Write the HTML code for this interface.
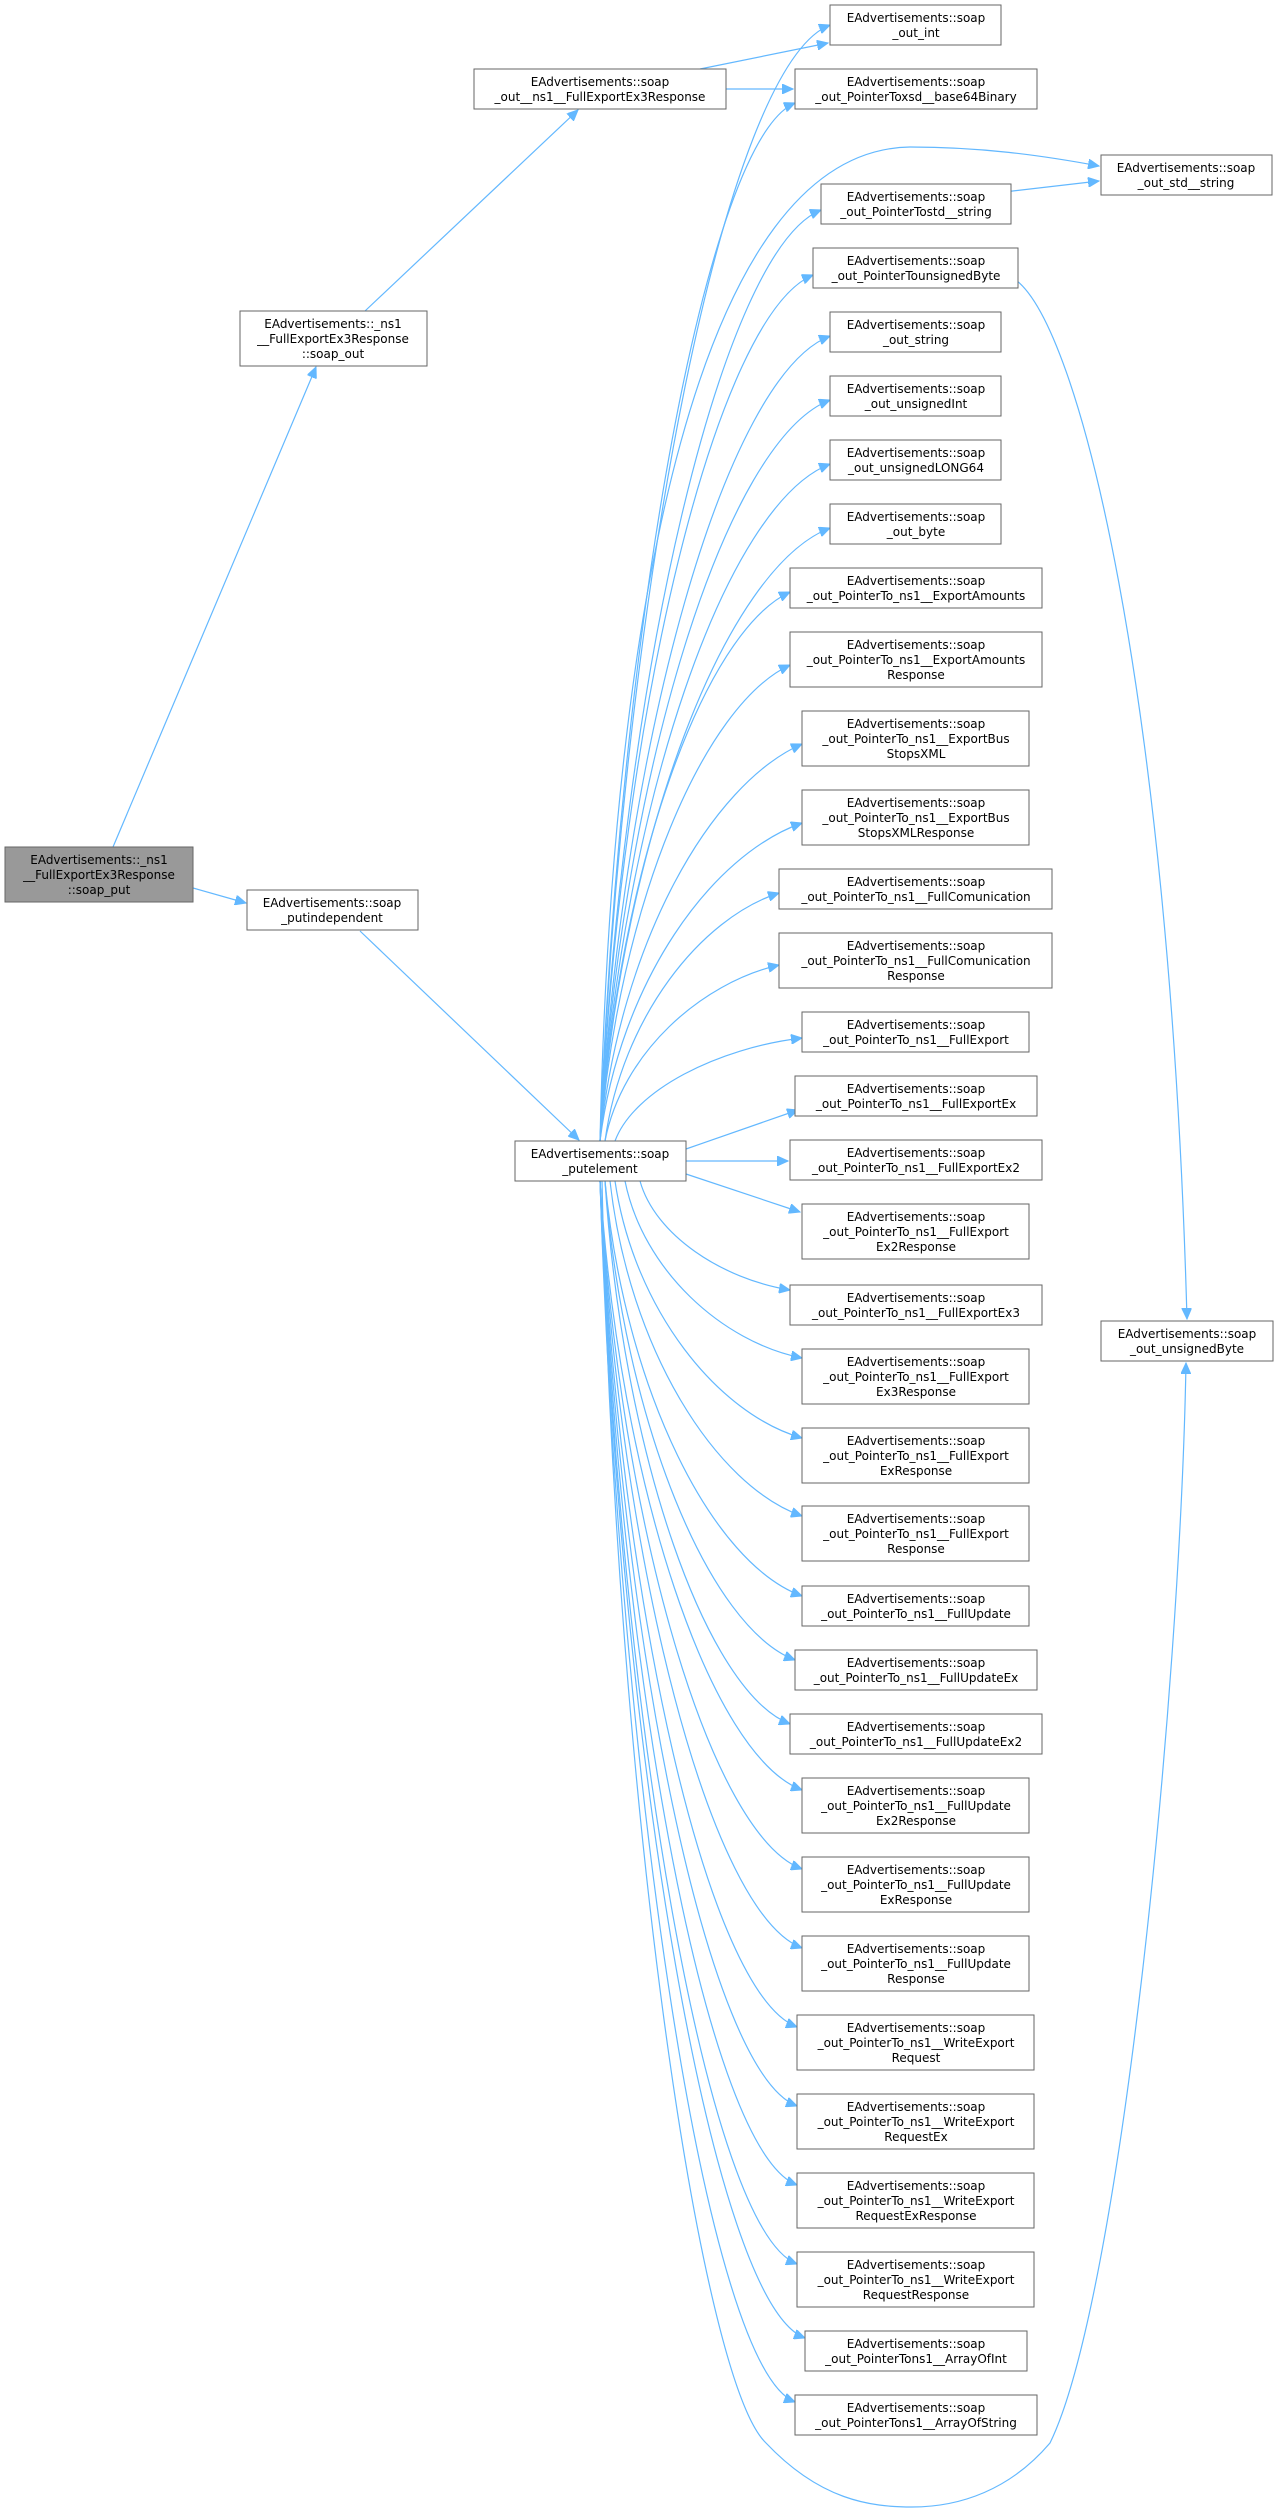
<!DOCTYPE html>
<html><head><meta charset="utf-8"><style>
html,body{margin:0;padding:0;background:#fff;}
svg{display:block;}
text{font-family:"DejaVu Sans","Liberation Sans",sans-serif;font-size:12px;fill:#000;text-anchor:middle;}
.n{fill:#fff;stroke:#666;stroke-width:1;}
.e{fill:none;stroke:#63b8ff;stroke-width:1.2;}
</style></head><body>
<svg width="1279" height="2513" viewBox="0 0 1279 2513" xmlns="http://www.w3.org/2000/svg">
<defs><marker id="a" markerUnits="userSpaceOnUse" markerWidth="12" markerHeight="10" refX="11" refY="5" orient="auto"><path d="M0,0 L11,5 L0,10 z" fill="#63b8ff" stroke="#63b8ff"/></marker></defs>
<g marker-end="url(#a)">
<path class="e" d="M113 847 L316 367"/>
<path class="e" d="M365 311 L578 110"/>
<path class="e" d="M193 888 L246 903"/>
<path class="e" d="M360 931 L579 1140"/>
<path class="e" d="M700 69 L828 43"/>
<path class="e" d="M726 89 L793 89"/>
<path class="e" d="M1004 192 L1099 181"/>
<path class="e" d="M1013 278 C1080 320,1170 700,1187 1319"/>
<path class="e" d="M602 1181 C615 1800,700 2380,766 2443 C820 2500,870 2507,912 2507 C960 2507,1010 2490,1050 2443 C1120 2300,1180 1700,1186 1363"/>
<path class="e" d="M600 1141 C623 583,726 65,830 25"/>
<path class="e" d="M600 1141 C620 620,707 140,795 103"/>
<path class="e" d="M600 1141 C612 600,700 150,910 147 C980 147,1040 155,1099 166"/>
<path class="e" d="M600 1141 C622 675,722 250,821 210"/>
<path class="e" d="M600 1141 C621 708,717 315,813 275"/>
<path class="e" d="M600 1141 C623 738,726 376,830 336"/>
<path class="e" d="M600 1141 C623 770,726 440,830 400"/>
<path class="e" d="M600 1141 C623 802,726 504,830 464"/>
<path class="e" d="M600 1141 C623 834,726 568,830 528"/>
<path class="e" d="M600 1141 C619 866,704 632,790 592"/>
<path class="e" d="M600 1141 C619 903,704 705,790 665"/>
<path class="e" d="M600 1141 C620 942,711 784,802 744"/>
<path class="e" d="M600 1141 C620 982,711 855,802 823"/>
<path class="e" d="M605 1141 C622 1017,701 918,779 893"/>
<path class="e" d="M605 1141 C622 1053,701 983,779 965"/>
<path class="e" d="M615 1141 C634 1090,718 1048,802 1038"/>
<path class="e" d="M686 1149 L798 1110"/>
<path class="e" d="M686 1161 L788 1161"/>
<path class="e" d="M686 1174 L800 1212"/>
<path class="e" d="M640 1181 C655 1235,722 1279,790 1290"/>
<path class="e" d="M625 1181 C643 1270,722 1342,802 1358"/>
<path class="e" d="M615 1181 C634 1310,718 1414,802 1438"/>
<path class="e" d="M610 1181 C629 1350,716 1486,802 1516"/>
<path class="e" d="M605 1181 C625 1392,713 1564,802 1596"/>
<path class="e" d="M605 1181 C624 1424,710 1628,795 1660"/>
<path class="e" d="M605 1181 C623 1456,707 1692,790 1724"/>
<path class="e" d="M600 1181 C620 1488,711 1756,802 1790"/>
<path class="e" d="M600 1181 C620 1528,711 1835,802 1869"/>
<path class="e" d="M600 1181 C620 1567,711 1914,802 1948"/>
<path class="e" d="M600 1181 C620 1607,708 1993,797 2027"/>
<path class="e" d="M600 1181 C620 1646,708 2072,797 2106"/>
<path class="e" d="M600 1181 C620 1686,708 2151,797 2185"/>
<path class="e" d="M600 1181 C620 1725,708 2230,797 2264"/>
<path class="e" d="M600 1181 C620 1762,713 2304,805 2338"/>
<path class="e" d="M600 1181 C620 1794,707 2368,795 2402"/>
</g>

<!-- left nodes -->
<rect x="5" y="847" width="188" height="55" fill="#999" stroke="#666"/>
<text x="99" y="864">EAdvertisements::_ns1</text><text x="99" y="879">__FullExportEx3Response</text><text x="99" y="894">::soap_put</text>

<rect class="n" x="240" y="311" width="187" height="55"/>
<text x="333" y="328">EAdvertisements::_ns1</text><text x="333" y="343">__FullExportEx3Response</text><text x="333" y="358">::soap_out</text>

<rect class="n" x="474" y="69" width="252" height="40"/>
<text x="600" y="86">EAdvertisements::soap</text><text x="600" y="101">_out__ns1__FullExportEx3Response</text>

<rect class="n" x="247" y="890" width="171" height="40"/>
<text x="332" y="907">EAdvertisements::soap</text><text x="332" y="922">_putindependent</text>

<rect class="n" x="515" y="1141" width="171" height="40"/>
<text x="600" y="1158">EAdvertisements::soap</text><text x="600" y="1173">_putelement</text>

<!-- right far column -->
<rect class="n" x="1101" y="155" width="171" height="40"/>
<text x="1186" y="172">EAdvertisements::soap</text><text x="1186" y="187">_out_std__string</text>
<rect class="n" x="1101" y="1321" width="172" height="40"/>
<text x="1187" y="1338">EAdvertisements::soap</text><text x="1187" y="1353">_out_unsignedByte</text>

<!-- main column -->
<rect class="n" x="830" y="5" width="171" height="40"/>
<text x="916" y="22">EAdvertisements::soap</text><text x="916" y="37">_out_int</text>
<rect class="n" x="795" y="69" width="242" height="40"/>
<text x="916" y="86">EAdvertisements::soap</text><text x="916" y="101">_out_PointerToxsd__base64Binary</text>
<rect class="n" x="821" y="184" width="190" height="40"/>
<text x="916" y="201">EAdvertisements::soap</text><text x="916" y="216">_out_PointerTostd__string</text>
<rect class="n" x="813" y="248" width="205" height="40"/>
<text x="916" y="265">EAdvertisements::soap</text><text x="916" y="280">_out_PointerTounsignedByte</text>
<rect class="n" x="830" y="312" width="171" height="40"/>
<text x="916" y="329">EAdvertisements::soap</text><text x="916" y="344">_out_string</text>
<rect class="n" x="830" y="376" width="171" height="40"/>
<text x="916" y="393">EAdvertisements::soap</text><text x="916" y="408">_out_unsignedInt</text>
<rect class="n" x="830" y="440" width="171" height="40"/>
<text x="916" y="457">EAdvertisements::soap</text><text x="916" y="472">_out_unsignedLONG64</text>
<rect class="n" x="830" y="504" width="171" height="40"/>
<text x="916" y="521">EAdvertisements::soap</text><text x="916" y="536">_out_byte</text>
<rect class="n" x="790" y="568" width="252" height="40"/>
<text x="916" y="585">EAdvertisements::soap</text><text x="916" y="600">_out_PointerTo_ns1__ExportAmounts</text>
<rect class="n" x="790" y="632" width="252" height="55"/>
<text x="916" y="649">EAdvertisements::soap</text><text x="916" y="664">_out_PointerTo_ns1__ExportAmounts</text><text x="916" y="679">Response</text>
<rect class="n" x="802" y="711" width="227" height="55"/>
<text x="916" y="728">EAdvertisements::soap</text><text x="916" y="743">_out_PointerTo_ns1__ExportBus</text><text x="916" y="758">StopsXML</text>
<rect class="n" x="802" y="790" width="227" height="55"/>
<text x="916" y="807">EAdvertisements::soap</text><text x="916" y="822">_out_PointerTo_ns1__ExportBus</text><text x="916" y="837">StopsXMLResponse</text>
<rect class="n" x="779" y="869" width="273" height="40"/>
<text x="916" y="886">EAdvertisements::soap</text><text x="916" y="901">_out_PointerTo_ns1__FullComunication</text>
<rect class="n" x="779" y="933" width="273" height="55"/>
<text x="916" y="950">EAdvertisements::soap</text><text x="916" y="965">_out_PointerTo_ns1__FullComunication</text><text x="916" y="980">Response</text>
<rect class="n" x="802" y="1012" width="227" height="40"/>
<text x="916" y="1029">EAdvertisements::soap</text><text x="916" y="1044">_out_PointerTo_ns1__FullExport</text>
<rect class="n" x="795" y="1076" width="242" height="40"/>
<text x="916" y="1093">EAdvertisements::soap</text><text x="916" y="1108">_out_PointerTo_ns1__FullExportEx</text>
<rect class="n" x="790" y="1140" width="252" height="40"/>
<text x="916" y="1157">EAdvertisements::soap</text><text x="916" y="1172">_out_PointerTo_ns1__FullExportEx2</text>
<rect class="n" x="802" y="1204" width="227" height="55"/>
<text x="916" y="1221">EAdvertisements::soap</text><text x="916" y="1236">_out_PointerTo_ns1__FullExport</text><text x="916" y="1251">Ex2Response</text>
<rect class="n" x="790" y="1285" width="252" height="40"/>
<text x="916" y="1302">EAdvertisements::soap</text><text x="916" y="1317">_out_PointerTo_ns1__FullExportEx3</text>
<rect class="n" x="802" y="1349" width="227" height="55"/>
<text x="916" y="1366">EAdvertisements::soap</text><text x="916" y="1381">_out_PointerTo_ns1__FullExport</text><text x="916" y="1396">Ex3Response</text>
<rect class="n" x="802" y="1428" width="227" height="55"/>
<text x="916" y="1445">EAdvertisements::soap</text><text x="916" y="1460">_out_PointerTo_ns1__FullExport</text><text x="916" y="1475">ExResponse</text>
<rect class="n" x="802" y="1506" width="227" height="55"/>
<text x="916" y="1523">EAdvertisements::soap</text><text x="916" y="1538">_out_PointerTo_ns1__FullExport</text><text x="916" y="1553">Response</text>
<rect class="n" x="802" y="1586" width="227" height="40"/>
<text x="916" y="1603">EAdvertisements::soap</text><text x="916" y="1618">_out_PointerTo_ns1__FullUpdate</text>
<rect class="n" x="795" y="1650" width="242" height="40"/>
<text x="916" y="1667">EAdvertisements::soap</text><text x="916" y="1682">_out_PointerTo_ns1__FullUpdateEx</text>
<rect class="n" x="790" y="1714" width="252" height="40"/>
<text x="916" y="1731">EAdvertisements::soap</text><text x="916" y="1746">_out_PointerTo_ns1__FullUpdateEx2</text>
<rect class="n" x="802" y="1778" width="227" height="55"/>
<text x="916" y="1795">EAdvertisements::soap</text><text x="916" y="1810">_out_PointerTo_ns1__FullUpdate</text><text x="916" y="1825">Ex2Response</text>
<rect class="n" x="802" y="1857" width="227" height="55"/>
<text x="916" y="1874">EAdvertisements::soap</text><text x="916" y="1889">_out_PointerTo_ns1__FullUpdate</text><text x="916" y="1904">ExResponse</text>
<rect class="n" x="802" y="1936" width="227" height="55"/>
<text x="916" y="1953">EAdvertisements::soap</text><text x="916" y="1968">_out_PointerTo_ns1__FullUpdate</text><text x="916" y="1983">Response</text>
<rect class="n" x="797" y="2015" width="237" height="55"/>
<text x="916" y="2032">EAdvertisements::soap</text><text x="916" y="2047">_out_PointerTo_ns1__WriteExport</text><text x="916" y="2062">Request</text>
<rect class="n" x="797" y="2094" width="237" height="55"/>
<text x="916" y="2111">EAdvertisements::soap</text><text x="916" y="2126">_out_PointerTo_ns1__WriteExport</text><text x="916" y="2141">RequestEx</text>
<rect class="n" x="797" y="2173" width="237" height="55"/>
<text x="916" y="2190">EAdvertisements::soap</text><text x="916" y="2205">_out_PointerTo_ns1__WriteExport</text><text x="916" y="2220">RequestExResponse</text>
<rect class="n" x="797" y="2252" width="237" height="55"/>
<text x="916" y="2269">EAdvertisements::soap</text><text x="916" y="2284">_out_PointerTo_ns1__WriteExport</text><text x="916" y="2299">RequestResponse</text>
<rect class="n" x="805" y="2331" width="222" height="40"/>
<text x="916" y="2348">EAdvertisements::soap</text><text x="916" y="2363">_out_PointerTons1__ArrayOfInt</text>
<rect class="n" x="795" y="2395" width="242" height="40"/>
<text x="916" y="2412">EAdvertisements::soap</text><text x="916" y="2427">_out_PointerTons1__ArrayOfString</text>
</svg>
</body></html>
